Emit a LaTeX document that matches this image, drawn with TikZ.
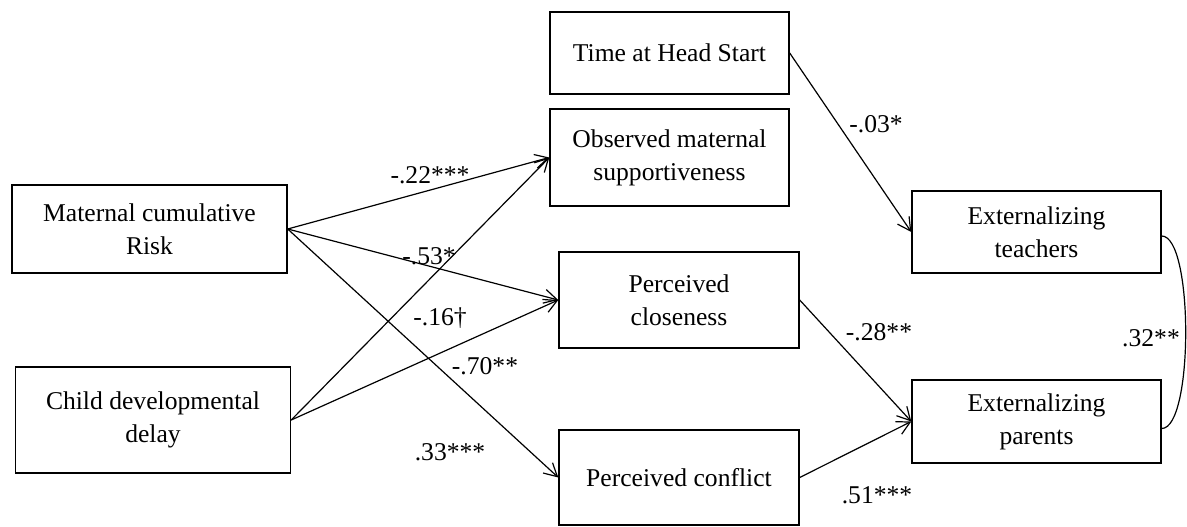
\documentclass[tikz,border=0pt]{standalone}
\usepackage{fontspec}
\setmainfont{Liberation Serif}
\usetikzlibrary{arrows.meta}
\begin{document}
\begin{tikzpicture}[x=1pt,y=-1pt,
  box/.style={draw, line width=1.4pt, align=center, inner sep=0pt,
    font=\fontsize{25.6}{33}\selectfont},
  lbl/.style={inner sep=0pt, font=\fontsize{25.6}{32}\selectfont},
  path/.style={line width=1.2pt, -{Straight Barb[length=13pt,width=14pt,line width=1.2pt]}},
]
\useasboundingbox (0,0) rectangle (1187,527);
\node[box, minimum width=275pt, minimum height=88pt] (mat) at (149.5,229) {Maternal cumulative\\Risk};
\node[box, minimum width=275pt, minimum height=106pt] (child) at (153,420) {Child developmental\\delay};
\node[box, minimum width=239pt, minimum height=82pt] (time) at (669.5,53) {Time at Head Start};
\node[box, minimum width=239pt, minimum height=97pt] (obs) at (669.5,157.5) {Observed maternal\\supportiveness};
\node[box, minimum width=240pt, minimum height=96pt] (clo) at (679,300) {Perceived\\closeness};
\node[box, minimum width=240pt, minimum height=95pt] (con) at (679,477.5) {Perceived conflict};
\node[box, minimum width=249pt, minimum height=82pt] (teach) at (1036.5,232) {Externalizing\\teachers};
\node[box, minimum width=249pt, minimum height=83pt] (par) at (1036.5,421.5) {Externalizing\\parents};

\draw[path] (mat.east) -- (obs.west);
\draw[path] (mat.east) -- (clo.west);
\draw[path] (mat.east) -- (con.west);
\draw[path] (child.east) -- (obs.west);
\draw[path] (child.east) -- (clo.west);
\draw[path] (time.east) -- (teach.west);
\draw[path] (clo.east) -- (par.west);
\draw[path] (con.east) -- (par.west);
\draw[line width=1.2pt] ([yshift=-4pt]teach.east) .. controls +(32,0) and +(32,0) .. ([yshift=-7pt]par.east);

\node[lbl] (l22) at (430,175) {-.22***};
\node[lbl] (l53) at (429,256) {-.53*};
\node[lbl] (l16) at (440,318) {-.16\textdagger};
\node[lbl] (l70) at (485,366) {-.70**};
\node[lbl] (l33) at (450,452) {.33***};
\node[lbl] (l03) at (876,124) {-.03*};
\node[lbl] (l28) at (879,332) {-.28**};
\node[lbl] (l51) at (877,495) {.51***};
\node[lbl] (l32) at (1151,338) {.32**};
\end{tikzpicture}
\end{document}
